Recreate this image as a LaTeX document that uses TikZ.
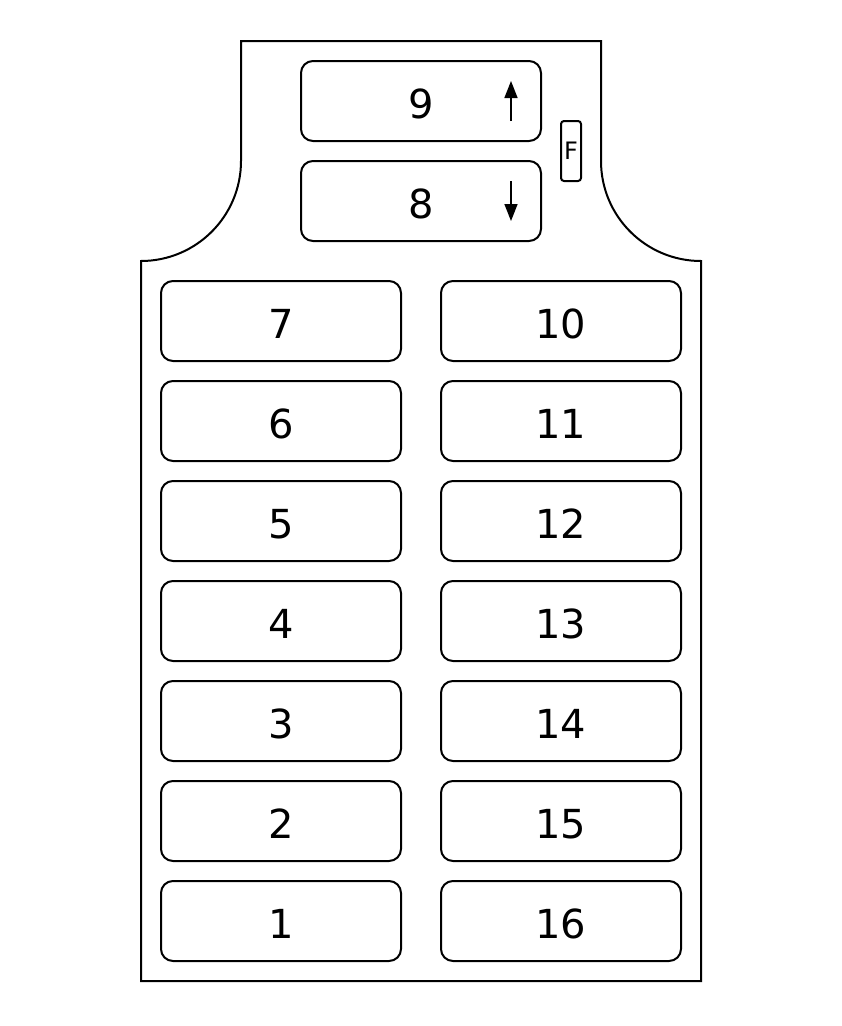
\documentclass[tikz,border=0pt]{standalone}
\usepackage{fontspec}
\setmainfont{DejaVu Sans}
\usepackage{tikz}
\usetikzlibrary{arrows.meta}

\newcommand{\fuselabel}[1]{\raisebox{-3pt}[\height][0pt]{#1}}

\begin{document}
\begin{tikzpicture}[x=1pt, y=-1pt, line width=2pt, >={Triangle[length=17pt, width=13pt]},
    fuse/.style={draw, rounded corners=12pt, minimum width=240pt, minimum height=80pt, inner sep=0pt, font=\fontsize{40}{40}\selectfont},
    small fuse/.style={draw, rounded corners=3pt, minimum width=20pt, minimum height=60pt, inner sep=0pt, font=\fontsize{24}{24}\selectfont}]
    \useasboundingbox (0,0) rectangle (842,1026);
    % outline of the box
    \draw (241,41) -- (601,41) -- (601,161) arc[start angle=180, end angle=270, radius=100pt]
        -- (701,981) -- (141,981) -- (141,261) arc[start angle=270, end angle=360, radius=100pt] -- cycle;
    % relays on top
    \node[fuse] (9) at (421,101) {\fuselabel{9}};
    \node[fuse] (8) at (421,201) {\fuselabel{8}};
    \node[small fuse] (F) at (571,151) {F};
    \coordinate (up start) at (511,121);
    \coordinate (up end) at (511,81);
    \coordinate (down start) at (511,181);
    \coordinate (down end) at (511,221);
    \draw[->, line width=1.6pt] (up start) -- (up end);
    \draw[->, line width=1.6pt] (down start) -- (down end);
    % fuses
    \foreach \l/\r [count=\i from 0] in {7/10, 6/11, 5/12, 4/13, 3/14, 2/15, 1/16} {
        \node[fuse] (\l) at (281,321+100*\i) {\fuselabel{\l}};
        \node[fuse] (\r) at (561,321+100*\i) {\fuselabel{\r}};
    }
\end{tikzpicture}
\end{document}
